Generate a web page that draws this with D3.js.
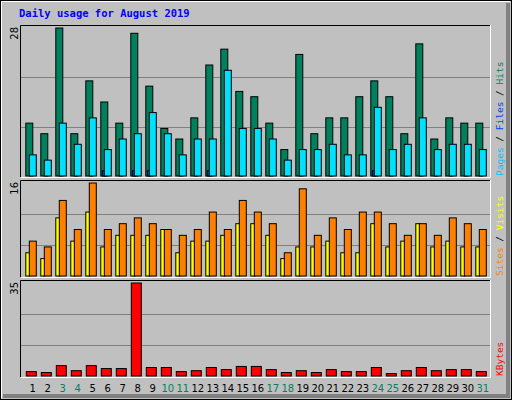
<!DOCTYPE html>
<html><head><meta charset="utf-8">
<script src="https://cdn.jsdelivr.net/npm/d3@7"></script>
<style>body{margin:0;background:#fff}</style>
</head><body>
<script>
var days = d3.range(1, 32);
var weekends = [3, 4, 10, 11, 17, 18, 24, 25, 31];
var hits   = [10,8,28,8,18,14,10,27,17,9,7,11,21,24,16,15,10,5,23,8,11,11,15,18,15,8,25,7,11,10,10];
var files  = [0,0,0,0,0,1,0,1,1,0,0,0,1,0,0,0,0,0,0,0,0,0,0,1,0,0,0,0,0,0,0];
var pages  = [4,3,10,6,11,5,7,8,12,8,4,7,7,20,9,9,7,3,5,5,6,4,4,13,5,6,11,5,6,6,5];
var visits = [4,3,10,6,11,5,7,7,7,8,4,6,6,7,9,9,7,3,5,5,6,4,4,9,5,6,9,5,6,5,5];
var sites  = [6,5,13,8,16,8,9,10,9,8,7,8,11,8,13,11,9,4,15,7,10,8,11,11,9,7,9,7,10,9,8];
var kbytes = [1.65,1.3,3.9,2.0,3.9,2.8,2.8,35,3.2,3.2,1.65,2.0,3.2,2.4,3.6,3.6,2.4,1.3,2.0,1.3,2.4,1.65,1.65,3.2,0.9,2.0,3.2,2.0,2.4,2.4,1.65];

var W = 512, H = 400;
var svg = d3.select("body").append("svg").attr("width", W).attr("height", H);

// outer frame
svg.append("rect").attr("width", W).attr("height", H).attr("fill", "#C0C0C0");
svg.append("path").attr("d", "M508,3V396H3").attr("fill", "none").attr("stroke", "#808080").attr("stroke-width", 4);
svg.append("path").attr("d", "M1.5,398V1.5H510").attr("fill", "none").attr("stroke", "#fff").attr("stroke-width", 1);
svg.append("rect").attr("x", 0.5).attr("y", 0.5).attr("width", W - 1).attr("height", H - 1)
   .attr("fill", "none").attr("stroke", "#000");

svg.append("text").attr("x", 19).attr("y", 17)
   .style("font-family", "DejaVu Sans Mono").style("font-weight", "bold").style("font-size", "10.5px")
   .attr("fill", "#0000FF").text("Daily usage for August 2019");

var x = d3.scaleLinear().domain([1, 32]).range([25.3, 25.3 + 465]);

function panel(y0, y1, max, label, parts) {
  // inset frame
  svg.append("path").attr("d", "M20.5," + y1 + "V" + (y0 + 0.5) + "H491").attr("fill", "none").attr("stroke", "#000");
  svg.append("path").attr("d", "M21," + (y1 + 0.5) + "H490.5V" + y0).attr("fill", "none").attr("stroke", "#fff");
  var y = d3.scaleLinear().domain([0, max]).range([y1 - 1, y0 + 3]);
  [max / 3, max * 2 / 3].forEach(function (g) {
    svg.append("line").attr("x1", 21).attr("x2", 490).attr("y1", Math.round(y(g)) + 0.5).attr("y2", Math.round(y(g)) + 0.5)
       .attr("stroke", "#808080");
  });
  svg.append("text").attr("transform", "translate(18," + (y0 + 2) + ") rotate(-90)")
     .attr("text-anchor", "end").style("font-family", "DejaVu Sans").style("font-size", "10px")
     .attr("fill", "#000").text(max);
  parts.forEach(function (p) {
    svg.append("g").selectAll("rect").data(p.data).enter().append("rect")
       .attr("x", function (d, i) { return x(days[i]) + p.off; })
       .attr("width", p.w)
       .attr("y", function (d) { return y(d); })
       .attr("height", function (d) { return y(0) - y(d); })
       .attr("fill", p.color).attr("stroke", "#000").attr("stroke-width", 1)
       .style("display", function (d) { return d > 0 ? null : "none"; });
  });
  // right label
  var t = svg.append("text").attr("transform", "translate(503," + (y1 - 1) + ") rotate(-90)")
     .style("font-family", "DejaVu Sans Mono").style("font-size", "9.5px");
  label.forEach(function (l) { t.append("tspan").attr("fill", l[1]).text(l[0]); });
}

panel(25, 177, 28, [["Pages", "#00C0FF"], [" / ", "#000"], ["Files", "#0040FF"], [" / ", "#000"], ["Hits", "#00805C"]], [
  { data: hits, off: 0.5, w: 7, color: "#00805C" },
  { data: files, off: 2, w: 3, color: "#0040FF" },
  { data: pages, off: 4, w: 7, color: "#00E0FF" }
]);
panel(180, 277, 16, [["Sites", "#FF8000"], [" / ", "#000"], ["Visits", "#FFFF00"]], [
  { data: visits, off: 0.5, w: 4, color: "#FFFF00" },
  { data: sites, off: 4, w: 7, color: "#FF8000" }
]);
panel(280, 377, 35, [["KBytes", "#FF0000"]], [
  { data: kbytes, off: 1, w: 10, color: "#FF0000" }
]);

svg.append("g").selectAll("text").data(days).enter().append("text")
   .attr("x", function (d) { return x(d) + 7.5; }).attr("y", 392)
   .attr("text-anchor", "middle").style("font-family", "DejaVu Sans").style("font-size", "10px")
   .attr("fill", function (d) { return weekends.indexOf(d) >= 0 ? "#00805C" : "#000"; })
   .text(function (d) { return d; });
</script>
</body></html>
